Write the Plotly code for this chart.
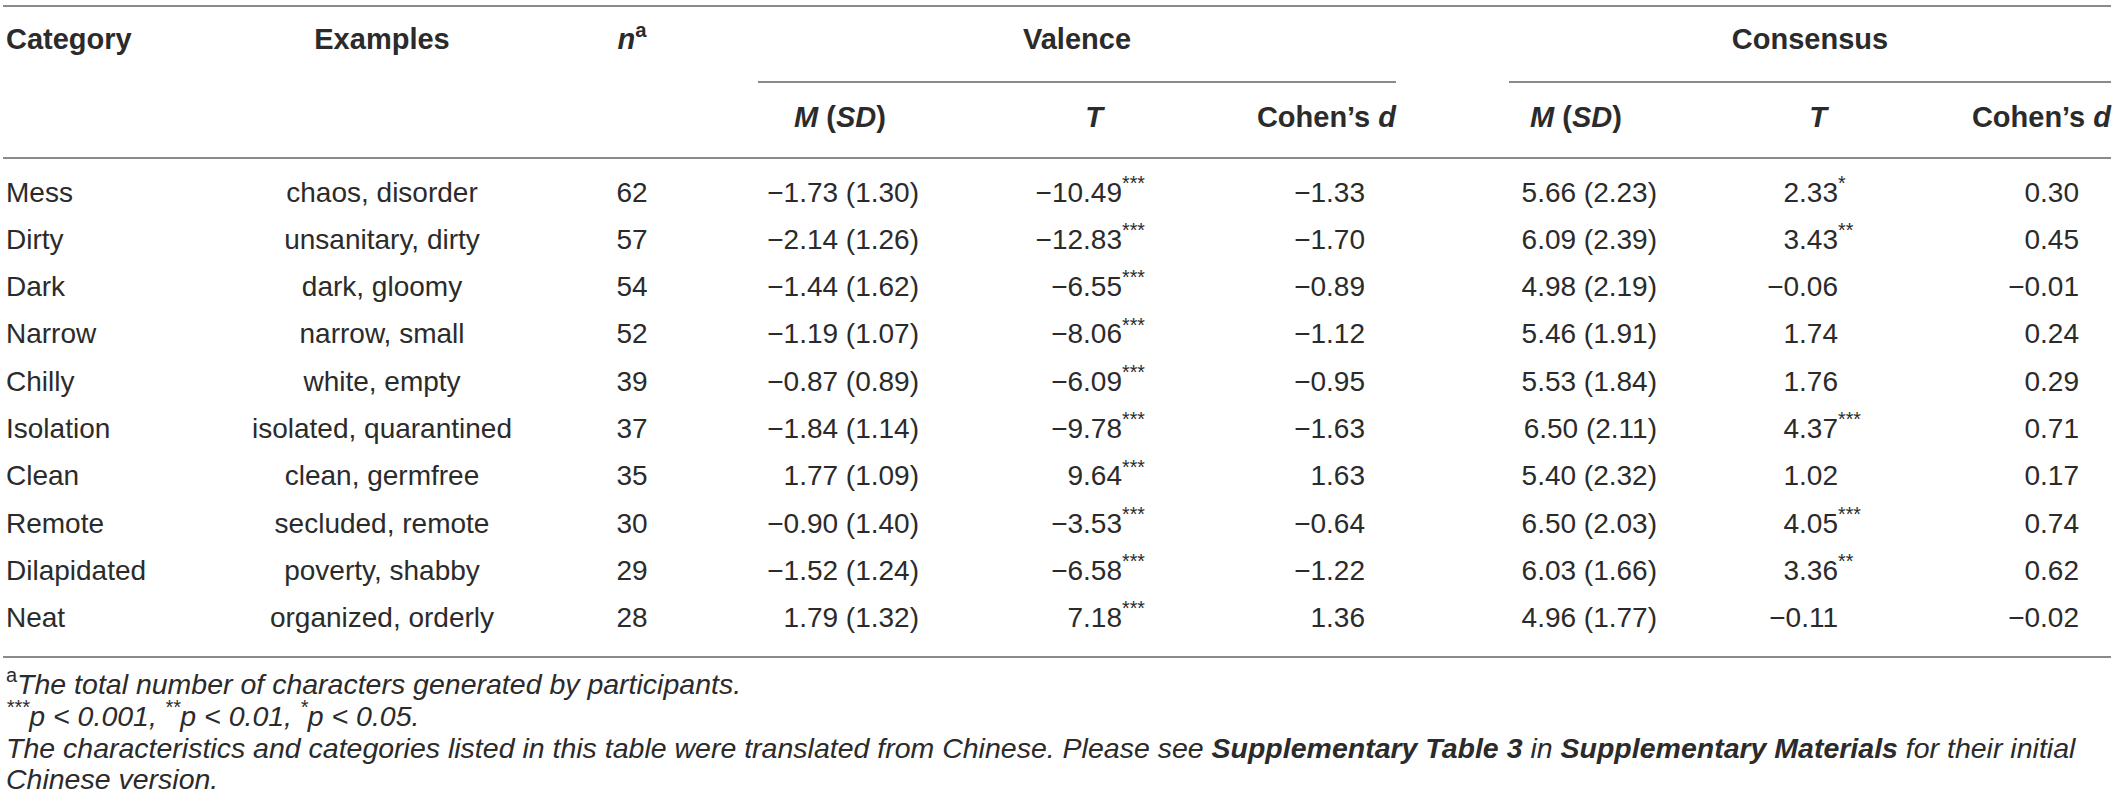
import plotly.graph_objects as go

# ---------------- data ----------------
categories = ["Mess", "Dirty", "Dark", "Narrow", "Chilly", "Isolation",
              "Clean", "Remote", "Dilapidated", "Neat"]
examples = ["chaos, disorder", "unsanitary, dirty", "dark, gloomy", "narrow, small",
            "white, empty", "isolated, quarantined", "clean, germfree",
            "secluded, remote", "poverty, shabby", "organized, orderly"]
n_chars = [62, 57, 54, 52, 39, 37, 35, 30, 29, 28]

val_m = [-1.73, -2.14, -1.44, -1.19, -0.87, -1.84, 1.77, -0.90, -1.52, 1.79]
val_sd = [1.30, 1.26, 1.62, 1.07, 0.89, 1.14, 1.09, 1.40, 1.24, 1.32]
val_t = [-10.49, -12.83, -6.55, -8.06, -6.09, -9.78, 9.64, -3.53, -6.58, 7.18]
val_t_sig = ["***", "***", "***", "***", "***", "***", "***", "***", "***", "***"]
val_d = [-1.33, -1.70, -0.89, -1.12, -0.95, -1.63, 1.63, -0.64, -1.22, 1.36]

con_m = [5.66, 6.09, 4.98, 5.46, 5.53, 6.50, 5.40, 6.50, 6.03, 4.96]
con_sd = [2.23, 2.39, 2.19, 1.91, 1.84, 2.11, 2.32, 2.03, 1.66, 1.77]
con_t = [2.33, 3.43, -0.06, 1.74, 1.76, 4.37, 1.02, 4.05, 3.36, -0.11]
con_t_sig = ["*", "**", "", "", "", "***", "", "***", "**", ""]
con_d = [0.30, 0.45, -0.01, 0.24, 0.29, 0.71, 0.17, 0.74, 0.62, -0.02]

group_headers = ["Valence", "Consensus"]
top_headers = ["Category", "Examples", "<i>n</i><sup>a</sup>"]
sub_headers = ["<i>M</i> (<i>SD</i>)", "<i>T</i>", "Cohen\u2019s <i>d</i>"]

footnotes = [
    "<sup>a</sup><i>The total number of characters generated by participants.</i>",
    "<i><sup>***</sup>p &lt; 0.001, <sup>**</sup>p &lt; 0.01, <sup>*</sup>p &lt; 0.05.</i>",
    "<i>The characteristics and categories listed in this table were translated from Chinese. "
    "Please see <b>Supplementary Table 3</b> in <b>Supplementary Materials</b> for their initial</i>",
    "<i>Chinese version.</i>",
]

# ---------------- layout constants ----------------
W, H = 2121, 812
FONT = "Liberation Sans, Arial, sans-serif"
TXT = "#2b2b2b"
RULE = "#8a8a8a"
FS = 28
FS_HDR = 29
FS_FOOT = 28.5
ROW0, ROW_H = 194.5, 47.3
Y_TOP_HDR, Y_SUB_HDR = 42, 120
FOOT0, FOOT_H = 687, 31.7

X_LEFT, X_RIGHT = 3, 2111
X_CAT = 6
X_EX = 382
X_N = 632
X_VM_R, X_VT_R, X_VD_R = 919, 1122, 1365
X_CM_R, X_CT_R, X_CD_R = 1657, 1838, 2079
X_VAL_HDR = [840, 1094, 1396]
X_CON_HDR = [1576, 1818, 2111]
X_GROUP = [1077, 1810]
SPANS = [(758, 1396), (1509, 2111)]
Y_RULES = [6, 158, 657]
Y_SPAN = 82


def fmt(v):
    s = f"{abs(v):.2f}"
    return ("\u2212" + s) if v < 0 else s


rows_y = [ROW0 + i * ROW_H for i in range(len(categories))]

fig = go.Figure()


def text_trace(xs, ys, texts, pos, size=FS, bold=False, color=TXT):
    fig.add_trace(go.Scatter(
        x=xs, y=ys, text=texts, mode="text", textposition=pos,
        textfont=dict(family=FONT, size=size, color=color,
                      weight="bold" if bold else "normal"),
        hoverinfo="skip", showlegend=False, cliponaxis=False))


def line_trace(x0, x1, y):
    fig.add_trace(go.Scatter(
        x=[x0, x1], y=[y, y], mode="lines",
        line=dict(color=RULE, width=2), hoverinfo="skip", showlegend=False))


# rules
for y in Y_RULES:
    line_trace(X_LEFT, X_RIGHT, y)
for (a, b) in SPANS:
    line_trace(a, b, Y_SPAN)

# headers
text_trace([X_CAT], [Y_TOP_HDR], [top_headers[0]], "middle right", size=FS_HDR, bold=True)
text_trace([X_EX, X_N], [Y_TOP_HDR] * 2, top_headers[1:], "middle center", size=FS_HDR, bold=True)
text_trace(X_GROUP, [Y_TOP_HDR] * 2, group_headers, "middle center", size=FS_HDR, bold=True)
for xs in (X_VAL_HDR, X_CON_HDR):
    text_trace(xs[:2], [Y_SUB_HDR] * 2, sub_headers[:2], "middle center", size=FS_HDR, bold=True)
    text_trace([xs[2]], [Y_SUB_HDR], [sub_headers[2]], "middle left", size=FS_HDR, bold=True)

# body
n = len(categories)
text_trace([X_CAT] * n, rows_y, categories, "middle right")
text_trace([X_EX] * n, rows_y, examples, "middle center")
text_trace([X_N] * n, rows_y, [str(v) for v in n_chars], "middle center")

text_trace([X_VM_R] * n, rows_y, [f"{fmt(m)} ({s:.2f})" for m, s in zip(val_m, val_sd)], "middle left")
text_trace([X_VT_R] * n, rows_y, [fmt(t) for t in val_t], "middle left")
text_trace([X_VT_R] * n, rows_y, [f"<sup>{s}</sup>" if s else "" for s in val_t_sig], "middle right")
text_trace([X_VD_R] * n, rows_y, [fmt(d) for d in val_d], "middle left")

text_trace([X_CM_R] * n, rows_y, [f"{fmt(m)} ({s:.2f})" for m, s in zip(con_m, con_sd)], "middle left")
text_trace([X_CT_R] * n, rows_y, [fmt(t) for t in con_t], "middle left")
text_trace([X_CT_R] * n, rows_y, [f"<sup>{s}</sup>" if s else "" for s in con_t_sig], "middle right")
text_trace([X_CD_R] * n, rows_y, [fmt(d) for d in con_d], "middle left")

# footnotes
text_trace([X_CAT] * len(footnotes), [FOOT0 + i * FOOT_H for i in range(len(footnotes))],
           footnotes, "middle right", size=FS_FOOT)

fig.update_layout(
    width=W, height=H, margin=dict(l=0, r=0, t=0, b=0),
    paper_bgcolor="white", plot_bgcolor="white",
    xaxis=dict(range=[0, W], visible=False, fixedrange=True),
    yaxis=dict(range=[H, 0], visible=False, fixedrange=True),
)

fig.write_html(
    "out.html",
    config={"displayModeBar": False},
    post_script="document.body.style.margin='0';document.body.style.overflow='hidden';",
)
